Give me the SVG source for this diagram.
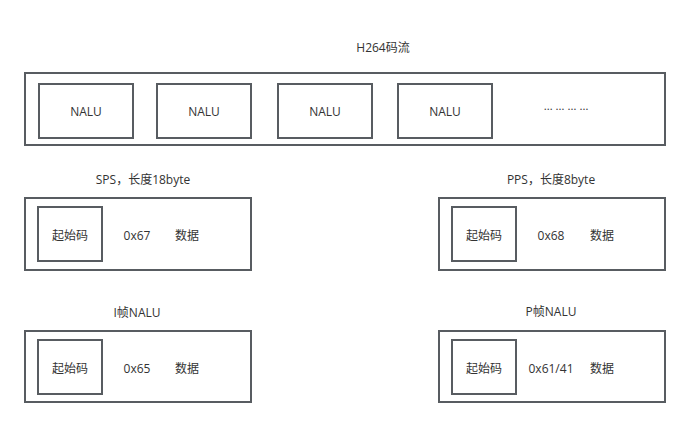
<svg xmlns="http://www.w3.org/2000/svg" width="690" height="428" viewBox="0 0 690 428">
<style>
.box{fill:#ffffff;stroke:#585c61;stroke-width:2}
text{font-family:"Open Sans","Noto Sans CJK SC",sans-serif;font-size:12px;fill:#333333;text-anchor:middle;dominant-baseline:central}
</style>
<rect width="690" height="428" fill="#ffffff"/>
<g id="stream">
<text x="383" y="47">H264码流</text>
<rect class="box" x="25" y="73" width="640" height="72"/>
</g>
<g id="nalu1"><rect class="box" x="39" y="84" width="94" height="54"/><text x="86" y="111">NALU</text></g>
<g id="nalu2"><rect class="box" x="157" y="84" width="94" height="54"/><text x="204" y="111">NALU</text></g>
<g id="nalu3"><rect class="box" x="278" y="84" width="94" height="54"/><text x="325" y="111">NALU</text></g>
<g id="nalu4"><rect class="box" x="398" y="84" width="94" height="54"/><text x="445" y="111">NALU</text></g>
<g id="ellipsis"><text x="566" y="105" style="font-size:11.5px">… … … …</text></g>
<g id="sps">
<text x="143" y="179">SPS，长度18byte</text>
<rect class="box" x="25" y="198" width="226" height="72"/>
<rect class="box" x="38" y="207" width="64" height="54"/>
<text x="70" y="235">起始码</text>
<text x="137" y="235">0x67</text>
<text x="187" y="235">数据</text>
</g>
<g id="pps">
<text x="551" y="179">PPS，长度8byte</text>
<rect class="box" x="439" y="198" width="226" height="72"/>
<rect class="box" x="452" y="207" width="64" height="54"/>
<text x="484" y="235">起始码</text>
<text x="551" y="235">0x68</text>
<text x="602" y="235">数据</text>
</g>
<g id="iframe">
<text x="137" y="312">I帧NALU</text>
<rect class="box" x="25" y="331" width="226" height="71"/>
<rect class="box" x="38" y="340" width="64" height="54"/>
<text x="70" y="368">起始码</text>
<text x="137" y="368">0x65</text>
<text x="187" y="368">数据</text>
</g>
<g id="pframe">
<text x="551" y="311">P帧NALU</text>
<rect class="box" x="439" y="331" width="226" height="71"/>
<rect class="box" x="452" y="340" width="64" height="54"/>
<text x="484" y="368">起始码</text>
<text x="551" y="368">0x61/41</text>
<text x="602" y="368">数据</text>
</g>
<g id="connectors"></g>
</svg>
